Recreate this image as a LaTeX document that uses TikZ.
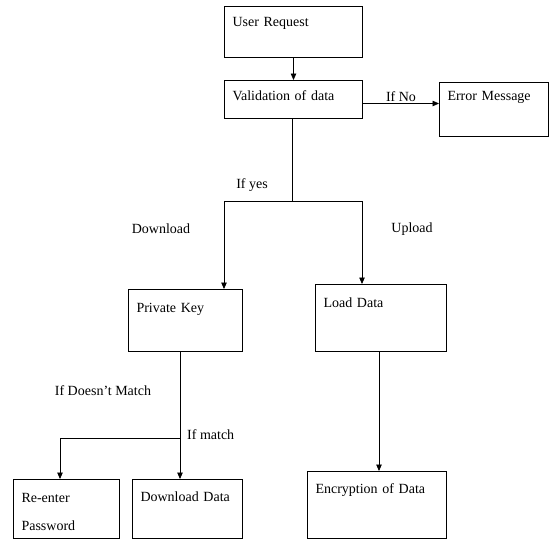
\documentclass[tikz,border=0pt]{standalone}
\usepackage{fontspec}
\setmainfont{Liberation Serif}
\usepackage{tikz}
\usetikzlibrary{arrows.meta,positioning,calc}

\tikzset{
  stepbox/.style={draw, line width=1pt, anchor=north west, align=left,
                  inner xsep=8pt, inner ysep=0pt, text height=21pt},
  arr/.style={-{Triangle[length=6.5pt,width=5.5pt]}, line width=0.8pt},
  lbl/.style={inner sep=1pt}
}

\begin{document}
\begin{tikzpicture}[x=1pt, y=-1pt, font=\fontsize{14}{28}\selectfont]
  \useasboundingbox (0,0) rectangle (549,539);

  % Request and check
  \node[stepbox, text width=122pt, text height=20pt, text depth=31pt] (req) at (224,6) {User Request};
  \node[stepbox, text width=122pt, text height=20pt, text depth=18pt] (val) at (224,80) {Validation of data};
  \node[stepbox, text width=93pt, text height=18pt, text depth=36pt] (err) at (439,82) {Error Message};

  \draw[arr] (req) -- (val);
  \draw[arr] (val.east) ++(0,4) coordinate (vo) -- (vo -| err.west)
    node[midway, above, lbl] {If No};

  % Branch
  \coordinate (split) at (292.5,201);
  \coordinate (dl) at (224,201);
  \coordinate (ul) at (362,201);
  \node[lbl] (yes) at (252,185) {If yes};
  \node[lbl] (down) at (161,229) {Download};
  \node[lbl] (up) at (412,229) {Upload};

  \node[stepbox, text width=98pt, text height=23pt, text depth=39pt] (pkey) at (128,289) {Private Key};
  \node[stepbox, text width=115pt, text height=23pt, text depth=44pt] (load) at (315,284) {Load Data};

  \draw[line width=0.8pt] (val.south -| split) -- (split);
  \draw[arr] (split) -- (dl) -- (dl |- pkey.north);
  \draw[arr] (split) -- (ul) -- (ul |- load.north);

  % Download side
  \coordinate (mt) at (180,438);
  \coordinate (rn) at (60,438);
  \node[lbl] (nomatch) at (103,391) {If Doesn't Match};
  \node[lbl, anchor=west] (match) at (186,435) {If match};

  \node[stepbox, text width=90pt, text height=23pt, text depth=36pt] (reent) at (13,479) {Re-enter\\Password};
  \node[stepbox, text width=94pt, text height=22pt, text depth=37pt] (dld) at (132,479) {Download Data};

  \draw[line width=0.8pt] (pkey.south -| mt) -- (mt);
  \draw[arr] (mt) -- (mt |- dld.north);
  \draw[arr] (mt) -- (rn) -- (rn |- reent.north);

  % Upload side
  \node[stepbox, text width=123pt, text height=22pt, text depth=45pt] (enc) at (307,471) {Encryption of Data};
  \draw[arr] (load.south) ++(-2,0) coordinate (lo) -- (lo |- enc.north);
\end{tikzpicture}
\end{document}
